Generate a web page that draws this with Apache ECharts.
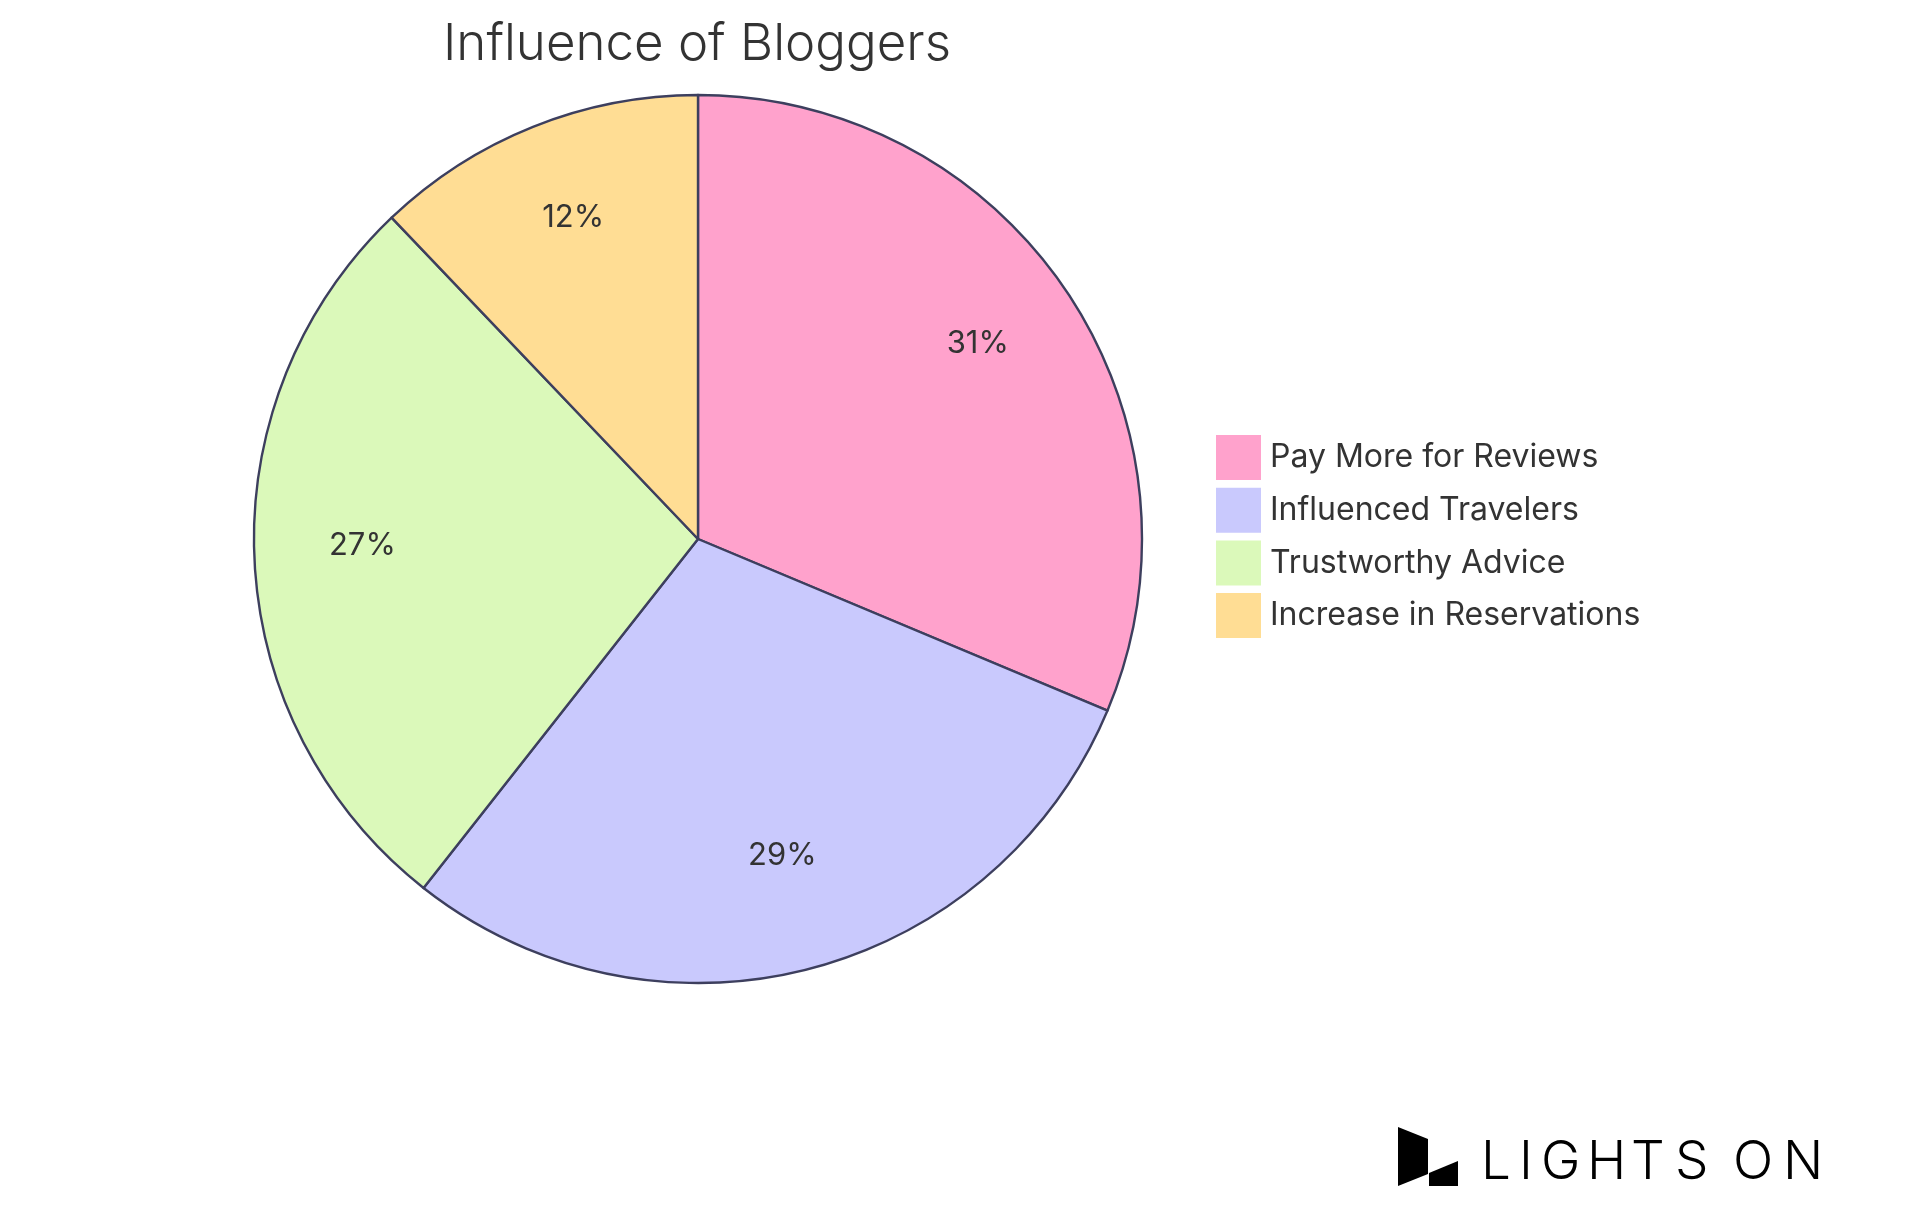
<!DOCTYPE html>
<html>
<head>
<meta charset="utf-8">
<title>Influence of Bloggers</title>
<script src="https://cdn.jsdelivr.net/npm/echarts@6/dist/echarts.min.js"></script>
<style>
  html, body { margin: 0; padding: 0; background: #fff; }
  #chart { width: 1920px; height: 1215px; }
</style>
</head>
<body>
<div id="chart"></div>
<script>
// data
const categories = ['Pay More for Reviews', 'Influenced Travelers', 'Trustworthy Advice', 'Increase in Reservations'];
const values = [31, 29, 27, 12];
const colors = ['#FFA2CC', '#C9C9FD', '#DBF9BA', '#FFDD94'];

const chart = echarts.init(document.getElementById('chart'));

const pieData = categories.map((name, i) => ({
  name: name,
  value: values[i],
  itemStyle: { color: colors[i] }
}));

// logo letters, spaced by hand
const logoText = 'LIGHTSON'.split('');
const logoX = [1481, 1519, 1541, 1587, 1631, 1675, 1733, 1783];

const option = {
  backgroundColor: '#ffffff',
  textStyle: { fontFamily: 'Inter, "Noto Sans", sans-serif' },
  title: {
    text: 'Influence of Bloggers',
    left: 443,
    top: 19,
    padding: 0,
    textStyle: {
      fontFamily: 'Inter',
      fontSize: 51,
      fontWeight: 300,
      color: '#333333'
    }
  },
  legend: {
    orient: 'vertical',
    left: 1216,
    top: 435,
    padding: 0,
    icon: 'rect',
    itemWidth: 45,
    itemHeight: 45,
    itemGap: 7.7,
    data: categories,
    selectedMode: false,
    itemStyle: { borderWidth: 0 },
    textStyle: {
      fontFamily: 'Inter',
      fontSize: 32,
      color: '#333333',
      padding: [0, 0, 0, 4]
    }
  },
  series: [
    {
      // the slices
      type: 'pie',
      center: [698, 539],
      radius: [0, 444],
      startAngle: 90,
      clockwise: true,
      silent: true,
      animation: false,
      label: { show: false },
      labelLine: { show: false },
      itemStyle: {
        borderColor: '#3D3F5E',
        borderWidth: 2.4
      },
      data: pieData
    },
    {
      // transparent ring, just to put labels at 3/4 of the radius
      type: 'pie',
      center: [698, 539],
      radius: [222, 444],
      startAngle: 90,
      clockwise: true,
      silent: true,
      animation: false,
      itemStyle: { color: 'rgba(0,0,0,0)', borderWidth: 0 },
      label: {
        show: true,
        position: 'inside',
        formatter: '{c}%',
        fontFamily: 'Inter',
        fontSize: 31,
        color: '#333333',
        offset: [0, -9]
      },
      labelLine: { show: false },
      data: categories.map((name, i) => ({ name: name, value: values[i] }))
    }
  ],
  graphic: [
    {
      type: 'polygon',
      shape: { points: [[1398, 1127], [1428, 1139], [1428, 1174], [1398, 1186]] },
      style: { fill: '#000' }
    },
    {
      type: 'polygon',
      shape: { points: [[1429, 1173], [1458, 1161], [1458, 1186], [1429, 1186]] },
      style: { fill: '#000' }
    }
  ].concat(logoText.map((ch, i) => ({
    type: 'text',
    x: logoX[i],
    y: 1190,
    style: {
      text: ch,
      fill: '#000',
      font: '350 53px Inter',
      textVerticalAlign: 'bottom'
    }
  })))
};

chart.setOption(option);
</script>
</body>
</html>
